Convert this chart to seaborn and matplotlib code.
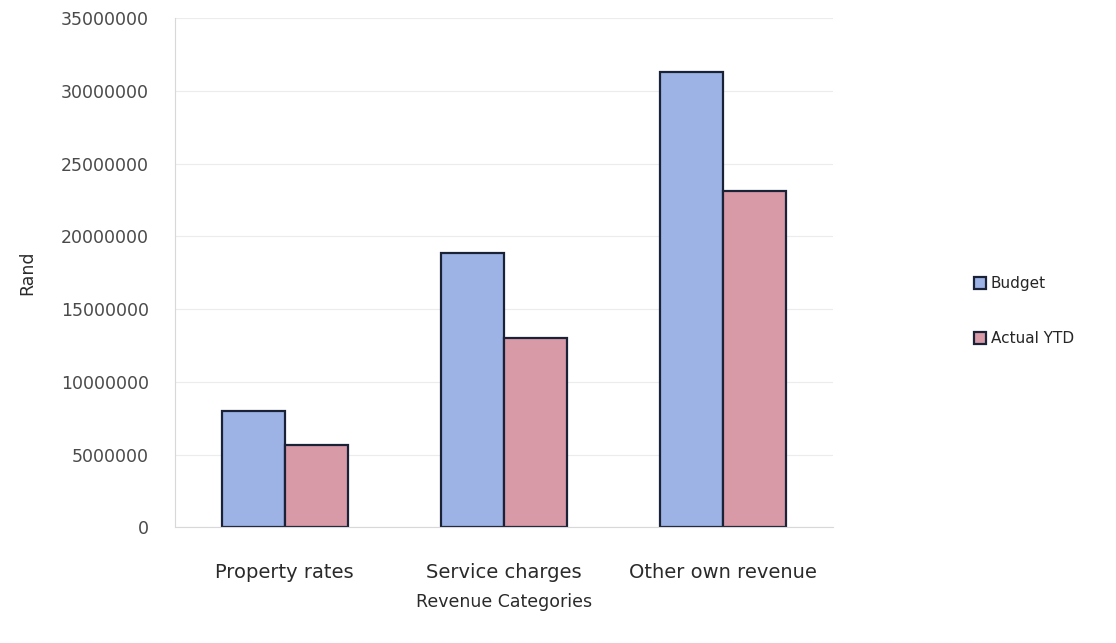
import matplotlib
matplotlib.use("Agg")
import matplotlib.pyplot as plt
import seaborn as sns
import pandas as pd
from matplotlib.ticker import FixedLocator, FuncFormatter

# Revenue per category, in Rand
categories = ["Property rates", "Service charges", "Other own revenue"]
budget = [7980000, 18850000, 31300000]
actual_ytd = [5650000, 13000000, 23100000]
series = ["Budget", "Actual YTD"]
y_ticks = [0, 5000000, 10000000, 15000000, 20000000, 25000000, 30000000, 35000000]

df = pd.DataFrame({
    "Category": categories * 2,
    "Series": [series[0]] * len(categories) + [series[1]] * len(categories),
    "Value": budget + actual_ytd,
})

sns.set_theme(style="white")
plt.rcParams["font.family"] = ["DejaVu Sans"]

fig = plt.figure(figsize=(11.16, 6.43), dpi=100)
ax = fig.add_axes([0.157, 0.180, 0.589, 0.792])

palette = {"Budget": "#9db3e6", "Actual YTD": "#d99aa8"}
sns.barplot(data=df, x="Category", y="Value", hue="Series", order=categories,
            hue_order=series, palette=palette, saturation=1, width=0.575,
            edgecolor="#1a2238", linewidth=1.6, ax=ax)

ax.set_ylim(0, 35000000)
ax.set_xlim(-0.5, len(categories) - 0.5)
ax.yaxis.set_major_locator(FixedLocator(y_ticks))
ax.yaxis.set_major_formatter(FuncFormatter(lambda v, p: f"{int(v)}"))
ax.grid(axis="y", color="#ececec", linewidth=0.8)
ax.set_axisbelow(True)

for side in ["top", "right"]:
    ax.spines[side].set_visible(False)
for side in ["left", "bottom"]:
    ax.spines[side].set_color("#d8d8d8")
    ax.spines[side].set_linewidth(0.8)

# category boundary ticks on the x axis
ax.set_xticks([0.5, 1.5], minor=True)
ax.tick_params(axis="x", which="minor", length=5, color="#cccccc", width=0.8)
ax.tick_params(axis="x", which="major", length=0, pad=26, labelsize=14, labelcolor="#2a2a2a")
ax.tick_params(axis="y", length=0, pad=19, labelsize=12.5, labelcolor="#4a4a4a")

ax.set_xlabel("Revenue Categories", fontsize=12.5, color="#2a2a2a", labelpad=8)
ax.set_ylabel("Rand", fontsize=12.5, color="#2a2a2a", labelpad=18)

handles, labels = ax.get_legend_handles_labels()
ax.legend(handles, labels, loc="center left", bbox_to_anchor=(1.215, 0.424),
          frameon=False, fontsize=11, labelspacing=2.6, handlelength=0.8,
          handleheight=0.8, handletextpad=0.3, borderpad=0, borderaxespad=0)

fig.savefig("out.png", dpi=100)
